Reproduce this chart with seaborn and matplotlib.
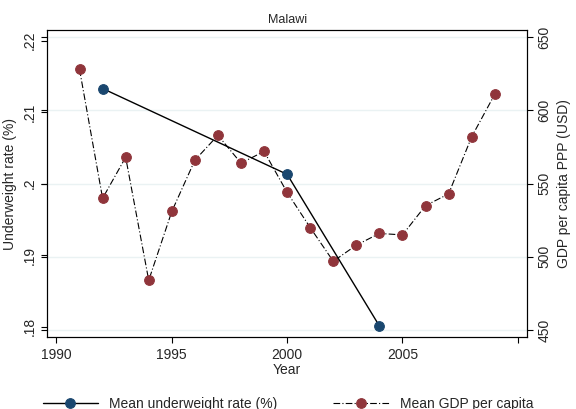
import seaborn as sns
import matplotlib.pyplot as plt
import pandas as pd

# data
uw_years = [1992, 2000, 2004]
uw_rate = [0.2133, 0.2013, 0.1801]
gdp_years = list(range(1991, 2010))
gdp_pc = [628, 540, 568, 484, 531, 566, 583, 564, 572, 544, 520, 497, 508, 516, 515, 535, 543, 582, 611]

df_uw = pd.DataFrame({'Year': uw_years, 'rate': uw_rate})
df_gdp = pd.DataFrame({'Year': gdp_years, 'gdp': gdp_pc})

sns.set_style('white')
plt.rcParams['font.family'] = ['Liberation Sans', 'DejaVu Sans']

fig = plt.figure(figsize=(5.76, 4.09), dpi=100)
ax = fig.add_axes([0.082, 0.175, 0.833, 0.752])
ax2 = ax.twinx()

navy = '#1a476f'
red = '#90353b'
sns.lineplot(data=df_uw, x='Year', y='rate', ax=ax, color='black', lw=1,
             marker='o', markersize=7, markerfacecolor=navy, markeredgecolor=navy,
             label='Mean underweight rate (%)', legend=False)
sns.lineplot(data=df_gdp, x='Year', y='gdp', ax=ax2, color='black', lw=0.8,
             linestyle=(0, (6, 2, 1, 2)), marker='o', markersize=7,
             markerfacecolor=red, markeredgecolor=red,
             label='Mean GDP per capita', legend=False)

ax.set_xlim(1989.6, 2010.4)
ax.set_ylim(0.1785, 0.2215)
ax2.set_ylim(445, 655)
ax.set_xticks([1990, 1995, 2000, 2005, 2010])
ax.set_xticklabels(['1990', '1995', '2000', '2005', ''])
ax.set_yticks([0.18, 0.19, 0.20, 0.21, 0.22])
ax.set_yticklabels(['.18', '.19', '.2', '.21', '.22'], rotation=90, va='center')
ax2.set_yticks([450, 500, 550, 600, 650])
ax2.set_yticklabels(['450', '500', '550', '600', '650'], rotation=90, va='center')
ax2.grid(True, color='#eaf2f3', lw=1)
ax2.set_zorder(ax.get_zorder() - 1)
ax.patch.set_visible(False)
for a in (ax, ax2):
    a.tick_params(direction='out', length=4, labelsize=10, color='black', left=True, bottom=True)
    for s in a.spines.values():
        s.set_color('black')
        s.set_linewidth(0.8)
ax2.tick_params(right=True)
ax.set_xlabel('Year', fontsize=10, labelpad=1)
ax.set_ylabel('Underweight rate (%)', fontsize=10)
ax2.set_ylabel('GDP per capita PPP (USD)', fontsize=10)
ax.set_title('Malawi', fontsize=9, pad=5)

h1, l1 = ax.get_legend_handles_labels()
h2, l2 = ax2.get_legend_handles_labels()
fig.legend(h1 + h2, l1 + l2, loc='lower center', ncol=2, frameon=False,
           fontsize=10, bbox_to_anchor=(0.5, -0.035), columnspacing=4, handlelength=4)

fig.savefig('out.png', dpi=100, facecolor='white')
